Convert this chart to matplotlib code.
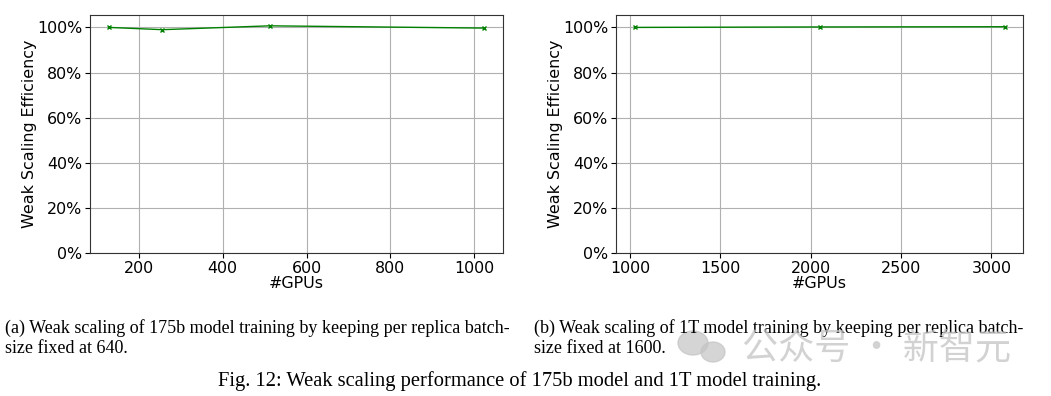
import matplotlib
matplotlib.use("Agg")
import matplotlib.pyplot as plt
from matplotlib.patches import Ellipse
from matplotlib.ticker import PercentFormatter

# (a) 175b model
gpus_175b = [128, 256, 512, 1024]
eff_175b = [1.000, 0.990, 1.007, 0.997]

# (b) 1T model
gpus_1t = [1024, 2048, 3072]
eff_1t = [1.000, 1.002, 1.003]

yticks = [0, 0.2, 0.4, 0.6, 0.8, 1.0]

plt.rcParams['font.size'] = 11.4

fig = plt.figure(figsize=(10.51, 3.96), dpi=100)
ax1 = fig.add_axes([90 / 1051, 1 - 253 / 396, 413 / 1051, 238 / 396])
ax2 = fig.add_axes([616 / 1051, 1 - 253 / 396, 407 / 1051, 238 / 396])

for ax, x, y in [(ax1, gpus_175b, eff_175b), (ax2, gpus_1t, eff_1t)]:
    ax.plot(x, y, color='green', marker='x', markersize=3.5, linewidth=1.0,
            markeredgewidth=1.0)
    ax.set_ylim(0, 1.055)
    ax.set_yticks(yticks)
    ax.yaxis.set_major_formatter(PercentFormatter(1.0, decimals=0))
    ax.grid(True, color='#b0b0b0', linewidth=0.8)
    ax.set_axisbelow(True)
    ax.set_xlabel('#GPUs', labelpad=0)
    ax.set_ylabel('Weak Scaling Efficiency', labelpad=0)
    ax.tick_params(pad=2)
    for s in ax.spines.values():
        s.set_color('#333333')

ax2.set_xticks([1000, 1500, 2000, 2500, 3000])

serif = ['Liberation Serif', 'DejaVu Serif']
fig.text(5 / 1051, 1 - 338 / 396,
         "(a) Weak scaling of 175b model training by keeping per replica batch-\nsize fixed at 640.",
         family=serif, fontsize=13, va='center', linespacing=1.18)
fig.text(534 / 1051, 1 - 338 / 396,
         "(b) Weak scaling of 1T model training by keeping per replica batch-\nsize fixed at 1600.",
         family=serif, fontsize=13, va='center', linespacing=1.18)
fig.text(520 / 1051, 1 - 381 / 396,
         "Fig. 12: Weak scaling performance of 175b model and 1T model training.",
         family=serif, fontsize=14.8, ha='center', va='center')

# watermark
wm = '#c4c4c4'
fig.patches.append(Ellipse((693 / 1051, 1 - 343 / 396), 30 / 1051, 24 / 396,
                           transform=fig.transFigure, color=wm, alpha=0.7))
fig.patches.append(Ellipse((713 / 1051, 1 - 352 / 396), 24 / 1051, 20 / 396,
                           transform=fig.transFigure, color=wm, alpha=0.7))
fig.text(742 / 1051, 1 - 349 / 396, "公众号 · 新智元",
         family=['Noto Sans CJK SC', 'DejaVu Sans'], fontsize=26,
         color=wm, alpha=0.75, va='center')

fig.savefig('out.png', dpi=100)
